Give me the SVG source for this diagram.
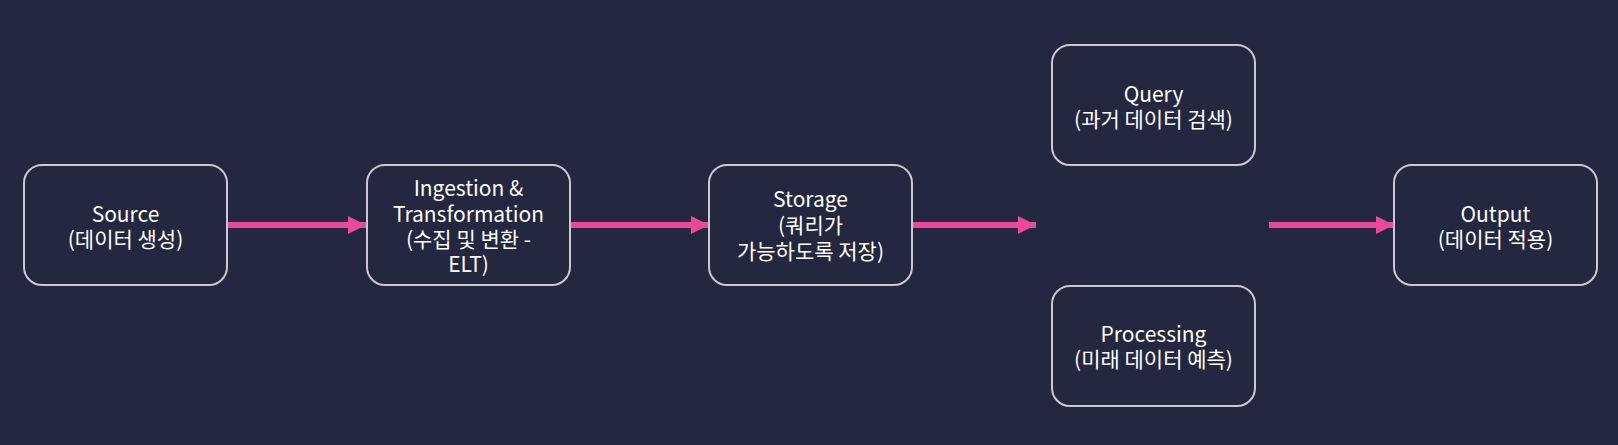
<svg xmlns="http://www.w3.org/2000/svg" width="1618" height="445" viewBox="0 0 1618 445">
<style>
.box{fill:#232840;stroke:#c9c9cf;stroke-width:2}
.t{font-family:"Noto Sans CJK KR","Noto Sans",sans-serif;font-size:21px;fill:#ffffff;text-anchor:middle;dominant-baseline:central}
.c{stroke:#ec4899;stroke-width:6;fill:none}
</style>
<defs>
<marker id="ah" markerUnits="userSpaceOnUse" markerWidth="20" markerHeight="18" refX="18" refY="9" orient="auto">
<path d="M0,0 L18,9 L0,18 Z" fill="#ec4899"/>
</marker>
</defs>
<rect width="1618" height="445" fill="#232740"/>
<g id="connectors">
<line class="c" x1="228" y1="225" x2="366" y2="225" marker-end="url(#ah)"/>
<line class="c" x1="571" y1="225" x2="709" y2="225" marker-end="url(#ah)"/>
<line class="c" x1="913" y1="225" x2="1036" y2="225" marker-end="url(#ah)"/>
<line class="c" x1="1269" y1="225" x2="1394" y2="225" marker-end="url(#ah)"/>
</g>
<g id="source">
<rect class="box" x="24" y="165" width="203" height="120" rx="18"/>
<text class="t" x="125.5" y="212.5">Source</text>
<text class="t" x="125.5" y="237.5">(데이터 생성)</text>
</g>
<g id="ingestion">
<rect class="box" x="367" y="165" width="203" height="120" rx="18"/>
<text class="t" x="468.5" y="187">Ingestion &amp;</text>
<text class="t" x="468.5" y="212.5">Transformation</text>
<text class="t" x="468.5" y="237.5">(수집 및 변환 -</text>
<text class="t" x="468.5" y="263">ELT)</text>
</g>
<g id="storage">
<rect class="box" x="709" y="165" width="203" height="120" rx="18"/>
<text class="t" x="810.5" y="198">Storage</text>
<text class="t" x="810.5" y="224">(쿼리가</text>
<text class="t" x="810.5" y="250">가능하도록 저장)</text>
</g>
<g id="query">
<rect class="box" x="1052" y="45" width="203" height="120" rx="18"/>
<text class="t" x="1153.5" y="92.5">Query</text>
<text class="t" x="1153.5" y="117.5">(과거 데이터 검색)</text>
</g>
<g id="processing">
<rect class="box" x="1052" y="286" width="203" height="120" rx="18"/>
<text class="t" x="1153.5" y="333">Processing</text>
<text class="t" x="1153.5" y="358">(미래 데이터 예측)</text>
</g>
<g id="output">
<rect class="box" x="1394" y="165" width="203" height="120" rx="18"/>
<text class="t" x="1495.5" y="212.5">Output</text>
<text class="t" x="1495.5" y="237.5">(데이터 적용)</text>
</g>
</svg>
